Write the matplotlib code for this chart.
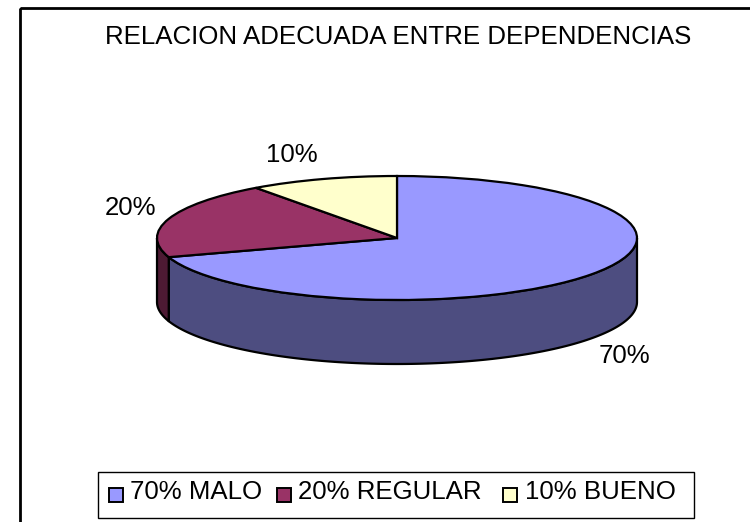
import numpy as np
import matplotlib
matplotlib.use('Agg')
import matplotlib.pyplot as plt
from matplotlib.patches import Rectangle

plt.rcParams['font.family'] = ['Liberation Sans', 'DejaVu Sans']

valores = [70, 20, 10]
etiquetas = ['70%', '20%', '10%']
leyenda = ['70% MALO', '20% REGULAR', '10% BUENO']
colores = ['#9999FF', '#993366', '#FFFFCC']
colores_lado = ['#4D4D80', '#4D1A33', '#808066']

W, H = 750, 522
cx, cy, rx, ry, prof = 397, 238, 240, 62, 64
fs = 18.6

fig = plt.figure(figsize=(W/100, H/100), dpi=100)

# marco y textos en pixeles
bg = fig.add_axes([0, 0, 1, 1])
bg.set_xlim(0, W)
bg.set_ylim(H, 0)
bg.axis('off')
bg.add_patch(Rectangle((20, 7.5), 800, 600, fill=False, ec='black', lw=2))
bg.text(398.5, 37, 'RELACION ADECUADA ENTRE DEPENDENCIAS', fontsize=fs, ha='center', va='center')
bg.text(624, 356, etiquetas[0], fontsize=fs, ha='center', va='center')
bg.text(130, 208, etiquetas[1], fontsize=fs, ha='center', va='center')
bg.text(292, 155, etiquetas[2], fontsize=fs, ha='center', va='center')

# pastel: el circulo unidad ocupa la elipse
ax = fig.add_axes([(cx-rx)/W, 1-(cy+ry)/H, 2*rx/W, 2*ry/H])
wedges, _ = ax.pie(valores, colors=colores, startangle=90, counterclock=False,
                   wedgeprops=dict(edgecolor='black', linewidth=1.6, clip_on=False, zorder=3))
ax.set_aspect('auto')
ax.set_xlim(-1, 1)
ax.set_ylim(-1, 1)

# lados del pastel
p = prof/ry
acum = np.cumsum([0] + valores)/sum(valores)*2*np.pi
for i in range(len(valores)):
    a0 = max(acum[i], np.pi/2)
    a1 = min(acum[i+1], 3*np.pi/2)
    if a1 <= a0:
        continue
    t = np.linspace(a0, a1, 200)
    x = np.sin(t)
    y = np.cos(t)
    ax.fill(np.r_[x, x[::-1]], np.r_[y, y[::-1]-p], fc=colores_lado[i], ec='black',
            lw=1.6, clip_on=False, zorder=2, joinstyle='round')

# leyenda
bg.add_patch(Rectangle((98, 471.5), 596, 46, fc='white', ec='black', lw=1, zorder=1))
pos_c = [108.5, 276.5, 503]
pos_t = [130.5, 297.5, 525]
for xc, xt, c, s in zip(pos_c, pos_t, colores, leyenda):
    bg.add_patch(Rectangle((xc, 487.5), 14, 14, fc=c, ec='black', lw=1.4, zorder=2))
    bg.text(xt, 492, s, fontsize=fs, ha='left', va='center', zorder=3)

fig.savefig('out.png', dpi=100)
